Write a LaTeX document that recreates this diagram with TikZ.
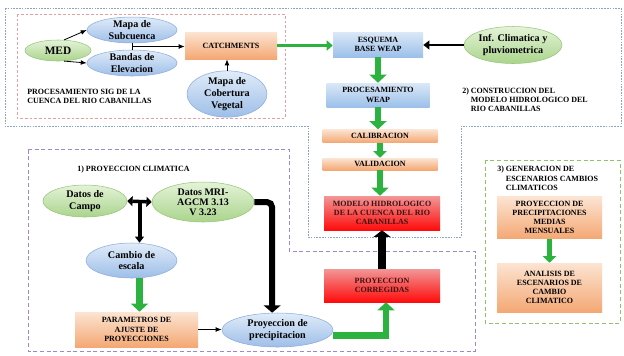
\documentclass[tikz,border=0pt]{standalone}
\usepackage{fontspec}
\setmainfont{Liberation Serif}
\usetikzlibrary{arrows.meta,shapes.geometric}

\definecolor{elGreenTop}{RGB}{228,243,216}
\definecolor{elGreenBot}{RGB}{170,212,140}
\definecolor{elGreenLine}{RGB}{150,198,120}
\definecolor{elBlueTop}{RGB}{224,236,249}
\definecolor{elBlueBot}{RGB}{158,190,232}
\definecolor{elBlueLine}{RGB}{140,172,220}
\definecolor{boxOrTop}{RGB}{252,228,210}
\definecolor{boxOrBot}{RGB}{244,168,116}
\definecolor{boxBlTop}{RGB}{218,232,247}
\definecolor{boxBlBot}{RGB}{156,192,234}
\definecolor{boxRdTop}{RGB}{242,150,150}
\definecolor{boxRdBot}{RGB}{255,12,12}
\definecolor{arrGreen}{RGB}{44,178,62}
\definecolor{frBlue}{RGB}{140,162,200}
\definecolor{frRed}{RGB}{232,158,158}
\definecolor{frPurple}{RGB}{158,138,200}
\definecolor{frGreen}{RGB}{140,196,104}

\begin{document}
\begin{tikzpicture}[x=0.75pt,y=0.75pt,yscale=-1,
  ell/.style 2 args={ellipse, inner sep=0pt, minimum width=#1*0.75pt, minimum height=#2*0.75pt, align=center, font=\fontsize{7.6}{8.4}\selectfont\bfseries},
  rbox/.style 2 args={rectangle, inner sep=0pt, minimum width=#1*0.75pt, minimum height=#2*0.75pt, align=center, font=\fontsize{6}{6.9}\selectfont\bfseries},
  gel/.style={draw=elGreenLine, top color=elGreenTop, bottom color=elGreenBot},
  bel/.style={draw=elBlueLine, top color=elBlueTop, bottom color=elBlueBot},
  obox/.style={top color=boxOrTop, bottom color=boxOrBot},
  blbox/.style={top color=boxBlTop, bottom color=boxBlBot},
  rdbox/.style={top color=boxRdTop, bottom color=boxRdBot, text={rgb,255:red,60;green,16;blue,16}},
  lbl/.style={inner sep=0pt, align=left, font=\fontsize{6}{6.9}\selectfont\bfseries},
  tarr/.style={line width=0.6pt, -{Latex[length=4.5pt,width=3.6pt]}},
  garr/.style={draw=arrGreen, line width=5pt, -{Triangle[length=6pt,width=12.5pt]}},
  gmid/.style={draw=arrGreen, line width=4pt, -{Triangle[length=5pt,width=10pt]}},
  gsm/.style={draw=arrGreen, line width=2.6pt, -{Triangle[length=4.5pt,width=7.5pt]}},
  karr/.style={line width=2.2pt, -{Triangle[length=4.5pt,width=6.5pt]}},
  kdbl/.style={line width=2.6pt, {Triangle[length=4pt,width=7.5pt]}-{Triangle[length=4pt,width=7.5pt]}},
  kbig/.style={line width=6pt, -{Triangle[length=5pt,width=12.5pt]}},
  kelb/.style={line width=4.5pt, rounded corners=4pt, -{Triangle[length=5.5pt,width=12.5pt]}}]
\path[use as bounding box] (0,0) rectangle (624,355);

%Shape: Frame construccion modelo
\draw[frBlue, line width=0.6pt, dash pattern=on 1.2pt off 0.9pt] (5,8) -- (621,8) -- (621,126) -- (461,126) -- (461,237) -- (308,237) -- (308,126) -- (5,126) -- cycle;
%Shape: Frame SIG
\draw[frRed, line width=0.6pt, dash pattern=on 2pt off 1.5pt] (17,14) rectangle (285,118);
%Shape: Frame proyeccion climatica
\draw[frPurple, line width=0.7pt, dash pattern=on 3pt off 2pt] (28,149) -- (289,149) -- (289,251) -- (475,251) -- (475,351) -- (28,351) -- cycle;
%Shape: Frame escenarios
\draw[frGreen, line width=0.6pt, dash pattern=on 3pt off 2pt] (485,160) rectangle (620,323);

%Nodes SIG
\node[ell={66}{21}, gel, font=\fontsize{8.5}{9}\selectfont\bfseries] (med) at (58,50.5) {MED};
\node[ell={90}{24}, bel] (sub) at (132,30) {Mapa de\\Subcuenca};
\node[ell={90}{26}, bel] (ban) at (132,63) {Bandas de\\Elevacion};
\node[rbox={92}{27}, obox] (cat) at (231,45.5) {CATCHMENTS};
\node[ell={80}{38}, bel, font=\fontsize{7.6}{8.8}\selectfont\bfseries] (cob) at (227,94) {Mapa de\\Cobertura\\Vegetal};

%Nodes modelo WEAP
\node[rbox={90}{25}, blbox] (esq) at (378,44.5) {ESQUEMA\\BASE WEAP};
\node[ell={98}{37}, gel] (inf) at (513,45) {Inf. Climatica y\\pluviometrica};
\node[rbox={103}{24}, blbox] (proc) at (378,95) {PROCESAMIENTO\\WEAP};
\node[rbox={115}{13}, obox] (cal) at (380,136) {CALIBRACION};
\node[rbox={115}{12}, obox] (val) at (380,164) {VALIDACION};
\node[rbox={116}{34}, rdbox] (mod) at (382,213) {MODELO HIDROLOGICO\\DE LA CUENCA DEL RIO\\CABANILLAS};
\node[rbox={116}{33}, rdbox] (cor) at (382,285.5) {PROYECCION\\CORREGIDAS};

%Nodes escenarios
\node[rbox={105}{42}, obox] (pmm) at (549.5,217.5) {PROYECCION DE\\PRECIPITACIONES\\MEDIAS\\MENSUALES};
\node[rbox={105}{49}, obox] (ana) at (549.5,287.5) {ANALISIS DE\\ESCENARIOS DE\\CAMBIO\\CLIMATICO};

%Nodes proyeccion climatica
\node[ell={84}{32}, gel] (cam) at (85,201) {Datos de\\Campo};
\node[ell={102}{40}, gel, font=\fontsize{7.5}{7.6}\selectfont\bfseries] (mri) at (203,202) {Datos MRI-\\AGCM 3.13\\V 3.23};
\node[ell={91}{35}, bel] (esc) at (131.5,260.5) {Cambio de\\escala};
\node[rbox={123}{35}, obox] (par) at (136.5,329.5) {PARAMETROS DE\\AJUSTE DE\\PROYECCIONES};
\node[ell={111}{34}, bel] (pre) at (277.5,330) {Proyeccion de\\precipitacion};

% Text Node
\node[lbl, anchor=north west] (tsig) at (27,89) {PROCESAMIENTO SIG DE LA\\CUENCA DEL RIO CABANILLAS};
% Text Node
\node[lbl, anchor=north west] (tmod) at (462,87.5) {2) CONSTRUCCION DEL\\\hphantom{2) }MODELO HIDROLOGICO DEL\\\hphantom{2) }RIO CABANILLAS};
% Text Node
\node[lbl, anchor=north west] (tesc) at (497,166) {3) GENERACION DE\\\hphantom{3) }ESCENARIOS CAMBIOS\\\hphantom{3) }CLIMATICOS};
% Text Node
\node[lbl, anchor=north west] (tpro) at (77,165.5) {1) PROYECCION CLIMATICA};

%Connectors SIG
\draw[tarr] (med.60) -- (sub.west);
\draw[tarr] (med.-60) -- (ban.west);
\draw[line width=0.6pt] (sub.south) -- coordinate (jn) (ban.north);
\draw[tarr] (jn) -- (jn -| cat.west);
\draw[tarr] (cob.north) -- (cob.north |- cat.south);
\draw[gsm] (cat.east) -- (cat.east -| esq.west);

%Connectors modelo
\draw[karr] (inf.west) -- (inf.west -| esq.east);
\draw[garr] (esq.south) -- (esq.south |- proc.north);
\draw[garr] (proc.south) -- (proc.south |- cal.north);
\draw[gmid] (cal.south) -- (val.north);
\draw[garr] (val.south) -- (val.south |- mod.north);
\draw[kbig] (cor.north) -- (mod.south);
\draw[garr] ([yshift=4pt]pre.east) -| ([xshift=3pt]cor.south);

%Connectors escenarios
\draw[gmid] (pmm.south) -- (ana.north);

%Connectors proyeccion climatica
\draw[kdbl] (cam.east) -- coordinate (dj) (mri.west);
\draw[karr, line width=3pt] (dj) -- (dj |- esc.north);
\draw[garr] (dj |- esc.south) -- (dj |- par.north);
\draw[tarr] (par.east) -- (par.east -| pre.west);
\draw[kelb] (mri.east) -| ([xshift=-4pt]pre.north);

\end{tikzpicture}
\end{document}
